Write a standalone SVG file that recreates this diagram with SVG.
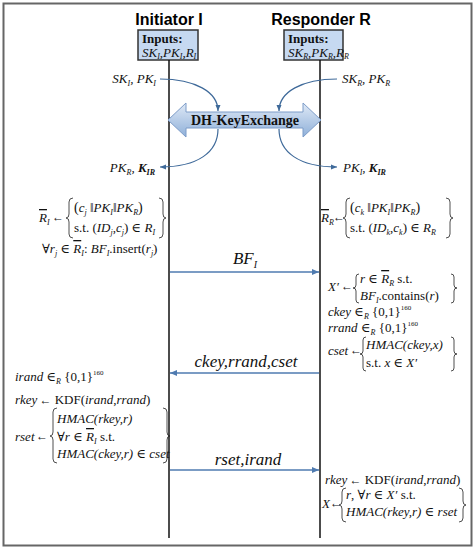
<svg xmlns="http://www.w3.org/2000/svg" width="474" height="548" viewBox="0 0 474 548">
<defs>
<style>
.t{font-family:"Liberation Serif","Times New Roman","DejaVu Serif",serif;font-size:13px;fill:#111;}
.it{font-style:italic;}
.sb{font-size:8px;}
.sp{font-size:7px;}
.ov{text-decoration:overline;}
.ar{font-family:"Liberation Serif","DejaVu Serif",serif;font-size:12px;fill:#111;}
.lbl{font-family:"Liberation Serif","Times New Roman","DejaVu Serif",serif;font-style:italic;font-size:17px;fill:#111;}
.ttl{font-family:"Liberation Sans",Arial,sans-serif;font-weight:bold;font-size:16px;fill:#000;}
.br{fill:none;stroke:#222;stroke-width:0.8;}
.msg{stroke:#4f7bb0;stroke-width:1.5;fill:none;marker-end:url(#ah);}
.cv{stroke:#3f6a9a;stroke-width:1.2;fill:none;marker-end:url(#ah2);}
.life{stroke:#111;stroke-width:1.5;}
.box{fill:#c6d9f1;stroke:#333;stroke-width:1.5;}
</style>
<marker id="ah" markerWidth="8" markerHeight="8" refX="7" refY="4" orient="auto" markerUnits="userSpaceOnUse">
<path d="M0,1 L7,4 L0,7 Z" fill="#4f7bb0"/>
</marker>
<marker id="ah2" markerWidth="7" markerHeight="6" refX="6" refY="3" orient="auto" markerUnits="userSpaceOnUse">
<path d="M0,0.5 L6,3 L0,5.5 Z" fill="#3f6a9a"/>
</marker>
<linearGradient id="dhg" x1="0" y1="0" x2="0" y2="1">
<stop offset="0" stop-color="#dfe9f6"/>
<stop offset="1" stop-color="#8fb0d9"/>
</linearGradient>
</defs>
<rect x="0" y="0" width="474" height="548" fill="#fff"/>
<rect x="3.5" y="3.5" width="468" height="542" fill="#fff" stroke="#666" stroke-width="2"/>

<g id="initiator">
<text class="ttl" x="169" y="25" text-anchor="middle">Initiator I</text>
<rect class="box" x="138" y="30" width="60" height="30"/>
<text class="t" x="142" y="43" font-weight="bold" font-size="12">Inputs:</text>
<text class="t it" x="142" y="56.5" font-size="11">SK<tspan class="sb" font-size="7" dy="2">I</tspan><tspan dy="-2">,PK</tspan><tspan class="sb" font-size="7" dy="2">I</tspan><tspan dy="-2">,R</tspan><tspan class="sb" font-size="7" dy="2">I</tspan></text>
<line class="life" x1="169" y1="60" x2="169" y2="538"/>
</g>

<g id="responder">
<text class="ttl" x="321" y="25" text-anchor="middle">Responder R</text>
<rect class="box" x="284" y="30" width="59" height="30"/>
<text class="t" x="288" y="43" font-weight="bold" font-size="12">Inputs:</text>
<text class="t it" x="288" y="56.5" font-size="11">SK<tspan class="sb" font-size="7" dy="2">R</tspan><tspan dy="-2">,PK</tspan><tspan class="sb" font-size="7" dy="2">R</tspan><tspan dy="-2">,R</tspan><tspan class="sb" font-size="7" dy="2">R</tspan></text>
<line class="life" x1="320" y1="60" x2="320" y2="538"/>
</g>

<g id="dh-exchange">
<path class="cv" d="M160,79 C195,79 218,92 218,111"/>
<path class="cv" d="M337,79 C302,79 279,92 279,111"/>
<polygon points="168,120 186,103 186,112 303,112 303,103 321,120 303,137 303,128 186,128 186,137" fill="url(#dhg)" stroke="#7d9cc8" stroke-width="1"/>
<text x="245" y="125" text-anchor="middle" font-family="Liberation Serif, Times New Roman, serif" font-weight="bold" font-size="14" fill="#111">DH-KeyExchange</text>
<path class="cv" d="M218,129 C218,152 198,167 160,167"/>
<path class="cv" d="M279,129 C279,152 299,167 337,167"/>
<text class="t it" x="156" y="83" font-size="12" text-anchor="end">SK<tspan class="sb" dy="3">I</tspan><tspan dy="-3">, PK</tspan><tspan class="sb" dy="3">I</tspan></text>
<text class="t it" x="342" y="83" font-size="12">SK<tspan class="sb" dy="3">R</tspan><tspan dy="-3">, PK</tspan><tspan class="sb" dy="3">R</tspan></text>
<text class="t it" x="155" y="172" font-size="12" text-anchor="end">PK<tspan class="sb" dy="3">R</tspan><tspan dy="-3">, </tspan><tspan font-weight="bold">K</tspan><tspan class="sb" font-weight="bold" dy="3">IR</tspan></text>
<text class="t it" x="343" y="172" font-size="12">PK<tspan class="sb" dy="3">I</tspan><tspan dy="-3">, </tspan><tspan font-weight="bold">K</tspan><tspan class="sb" font-weight="bold" dy="3">IR</tspan></text>
</g>

<g id="initiator-prep">
<text class="t" x="39" y="222"><tspan class="it ov">R</tspan><tspan class="sb it" dy="3">I</tspan></text>
<text class="ar" x="52" y="221">←</text>
<path class="br" d="M73,198 Q69,198 69,202 L69,214 Q69,218 66,218 Q69,218 69,222 L69,234 Q69,238 73,238"/>
<text class="t" x="74" y="212"><tspan font-size="14">(</tspan><tspan class="it">c</tspan><tspan class="sb it" dy="3">j</tspan><tspan dy="-3"> ‖</tspan><tspan class="it">PK</tspan><tspan class="sb it" dy="3">I</tspan><tspan dy="-3">‖</tspan><tspan class="it">PK</tspan><tspan class="sb it" dy="3">R</tspan><tspan dy="-3" font-size="14">)</tspan></text>
<text class="t" x="74" y="232">s.t. (<tspan class="it">ID</tspan><tspan class="sb it" dy="3">j</tspan><tspan dy="-3">,</tspan><tspan class="it">c</tspan><tspan class="sb it" dy="3">j</tspan><tspan dy="-3">) ∈ </tspan><tspan class="it">R</tspan><tspan class="sb it" dy="3">I</tspan></text>
<path class="br" d="M159,198 Q163,198 163,202 L163,214 Q163,218 166,218 Q163,218 163,222 L163,234 Q163,238 159,238"/>
<text class="t" x="42" y="253">∀<tspan class="it">r</tspan><tspan class="sb it" dy="3">j</tspan><tspan dy="-3"> ∈ </tspan><tspan class="it ov">R</tspan><tspan class="sb it" dy="3">I</tspan><tspan dy="-3">: </tspan><tspan class="it">BF</tspan><tspan class="sb it" dy="3">I</tspan><tspan dy="-3">.insert(</tspan><tspan class="it">r</tspan><tspan class="sb it" dy="3">j</tspan><tspan dy="-3">)</tspan></text>
</g>

<g id="responder-prep">
<text class="t" x="321" y="222"><tspan class="it ov">R</tspan><tspan class="sb it" dy="3">R</tspan></text>
<text class="ar" x="333" y="221">←</text>
<path class="br" d="M350,198 Q346,198 346,202 L346,214 Q346,218 343,218 Q346,218 346,222 L346,234 Q346,238 350,238"/>
<text class="t" x="350" y="212"><tspan font-size="14">(</tspan><tspan class="it">c</tspan><tspan class="sb it" dy="3">k</tspan><tspan dy="-3"> ‖</tspan><tspan class="it">PK</tspan><tspan class="sb it" dy="3">I</tspan><tspan dy="-3">‖</tspan><tspan class="it">PK</tspan><tspan class="sb it" dy="3">R</tspan><tspan dy="-3" font-size="14">)</tspan></text>
<text class="t" x="350" y="232">s.t. (<tspan class="it">ID</tspan><tspan class="sb it" dy="3">k</tspan><tspan dy="-3">,</tspan><tspan class="it">c</tspan><tspan class="sb it" dy="3">k</tspan><tspan dy="-3">) ∈ </tspan><tspan class="it">R</tspan><tspan class="sb it" dy="3">R</tspan></text>
<path class="br" d="M446,198 Q450,198 450,202 L450,214 Q450,218 453,218 Q450,218 450,222 L450,234 Q450,238 446,238"/>
</g>

<g id="responder-match">
<text class="t it" x="328" y="291">X′</text>
<text class="ar" x="341" y="290">←</text>
<path class="br" d="M359,274 Q356,274 356,277 L356,285 Q356,288 353,288 Q356,288 356,291 L356,300 Q356,303 359,303"/>
<text class="t" x="360" y="283"><tspan class="it">r</tspan> ∈ <tspan class="it ov">R</tspan><tspan class="sb it" dy="3">R</tspan><tspan dy="-3"> s.t.</tspan></text>
<text class="t" x="360" y="300"><tspan class="it">BF</tspan><tspan class="sb it" dy="3">I</tspan><tspan dy="-3">.contains(</tspan><tspan class="it">r</tspan>)</text>
<path class="br" d="M451,274 Q454,274 454,277 L454,285 Q454,288 457,288 Q454,288 454,291 L454,300 Q454,303 451,303"/>
<text class="t" x="328" y="316"><tspan class="it">ckey</tspan> ∈<tspan class="sb it" dy="3">R</tspan><tspan dy="-3"> {0,1}</tspan><tspan class="sp" dy="-6">160</tspan></text>
<text class="t" x="328" y="332"><tspan class="it">rrand</tspan> ∈<tspan class="sb it" dy="3">R</tspan><tspan dy="-3"> {0,1}</tspan><tspan class="sp" dy="-6">160</tspan></text>
<text class="t it" x="328" y="355" font-size="12">cset</text>
<text class="ar" x="350" y="354">←</text>
<path class="br" d="M366,337 Q363,337 363,340 L363,351 Q363,354 360,354 Q363,354 363,357 L363,368 Q363,371 366,371"/>
<text class="t it" x="366" y="349">HMAC(ckey,x)</text>
<text class="t" x="366" y="367">s.t. <tspan class="it">x</tspan> ∈ <tspan class="it">X′</tspan></text>
<path class="br" d="M451,337 Q454,337 454,340 L454,351 Q454,354 457,354 Q454,354 454,357 L454,368 Q454,371 451,371"/>
</g>

<g id="initiator-response">
<text class="t" x="15" y="381"><tspan class="it">irand</tspan> ∈<tspan class="sb it" dy="3">R</tspan><tspan dy="-3"> {0,1}</tspan><tspan class="sp" dy="-6">160</tspan></text>
<text class="t" x="15" y="404"><tspan class="it">rkey</tspan><tspan class="ar" dx="2">←</tspan> KDF(<tspan class="it">irand</tspan>,<tspan class="it">rrand</tspan>)</text>
<path class="br" d="M57,408 Q53,408 53,412 L53,432 Q53,436 50,436 Q53,436 53,440 L53,459 Q53,463 57,463"/>
<text class="t it" x="57" y="423">HMAC(rkey,r)</text>
<text class="t it" x="15" y="441" font-size="12">rset</text>
<text class="ar" x="36" y="440">←</text>
<text class="t" x="57" y="441">∀<tspan class="it">r</tspan> ∈ <tspan class="it ov">R</tspan><tspan class="sb it" dy="3">I</tspan><tspan dy="-3"> s.t.</tspan></text>
<text class="t" x="57" y="458"><tspan class="it">HMAC(ckey,r)</tspan> ∈ <tspan class="it">cset</tspan></text>
<path class="br" d="M163,408 Q167,408 167,412 L167,432 Q167,436 170,436 Q167,436 167,440 L167,459 Q167,463 163,463"/>
</g>

<g id="responder-final">
<text class="t" x="325" y="484"><tspan class="it">rkey</tspan><tspan class="ar" dx="2">←</tspan> KDF(<tspan class="it">irand</tspan>,<tspan class="it">rrand</tspan>)</text>
<text class="t it" x="322" y="508">X</text>
<text class="ar" x="330" y="507">←</text>
<path class="br" d="M346,488 Q342,488 342,492 L342,501 Q342,505 339,505 Q342,505 342,509 L342,518 Q342,522 346,522"/>
<text class="t" x="346" y="499"><tspan class="it">r</tspan>, ∀<tspan class="it">r</tspan> ∈ <tspan class="it">X′</tspan> s.t.</text>
<text class="t" x="346" y="516"><tspan class="it">HMAC(rkey,r)</tspan> ∈ <tspan class="it">rset</tspan></text>
<path class="br" d="M459,488 Q463,488 463,492 L463,501 Q463,505 466,505 Q463,505 463,509 L463,518 Q463,522 459,522"/>
</g>

<g id="connectors">
<line class="msg" x1="170" y1="272" x2="319" y2="272"/>
<text class="lbl" x="245" y="264" text-anchor="middle">BF<tspan font-size="10" dy="4">I</tspan></text>
<line class="msg" x1="319" y1="373" x2="170" y2="373"/>
<text class="lbl" x="246" y="367" text-anchor="middle">ckey,rrand,cset</text>
<line class="msg" x1="170" y1="470" x2="319" y2="470"/>
<text class="lbl" x="248" y="465" text-anchor="middle">rset,irand</text>
</g>
</svg>
